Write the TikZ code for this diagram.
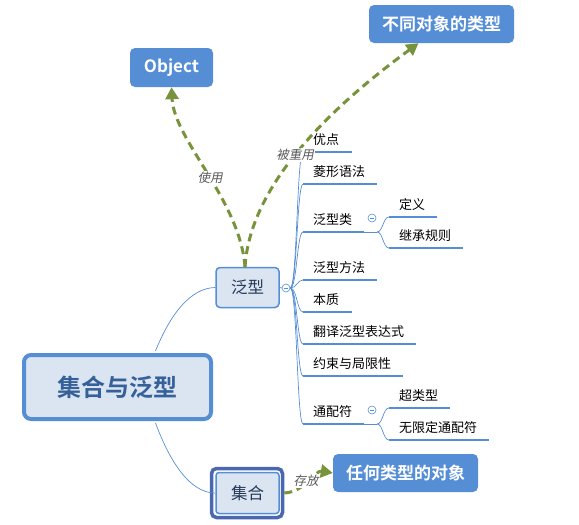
\documentclass[tikz,border=0pt]{standalone}
\usepackage{fontspec}
\setmainfont{Noto Sans CJK SC}[BoldFont={Noto Sans CJK SC Bold}]
\newfontfamily\cjkit{Noto Sans CJK SC}[FakeSlant=0.2]
\usetikzlibrary{arrows.meta}
\definecolor{blueA}{HTML}{558ED5}
\definecolor{lightfill}{HTML}{DBE5F1}
\definecolor{rootText}{HTML}{35609A}
\definecolor{olive}{HTML}{77933C}
\definecolor{labGray}{HTML}{595959}
\definecolor{outerB}{HTML}{4A67B0}
\definecolor{topicText}{HTML}{253858}
\tikzset{
  bluebox/.style={fill=blueA, rounded corners=5pt, text=white, font=\bfseries\fontsize{17}{20}\selectfont, inner sep=0pt},
  subtext/.style={anchor=base west, inner sep=0pt, font=\fontsize{13}{15}\selectfont},
  uline/.style={draw=blueA, line width=2.6pt},
  branch/.style={draw=blueA, line width=0.7pt},
  rel/.style={draw=olive, line width=3pt, dash pattern=on 8pt off 5pt, -{Triangle[length=12pt,width=13pt]}},
  rellab/.style={font=\cjkit\fontsize{12.5}{14}\selectfont, text=labGray, fill=white, inner sep=1pt},
  collapse/.style={circle, draw=blueA, fill=white, line width=0.6pt, minimum size=8pt, inner sep=0pt,
     path picture={\draw[blueA, line width=0.6pt] ([xshift=-2.2pt]path picture bounding box.center) -- ([xshift=2.2pt]path picture bounding box.center);}},
}
\begin{document}
\begin{tikzpicture}[x=1pt,y=-1pt]
\useasboundingbox (0,0) rectangle (579,525);
% root
\node[draw=blueA, line width=4pt, fill=lightfill, rounded corners=7pt, minimum width=187pt, minimum height=64pt,
  text=rootText, font=\bfseries\fontsize{24}{28}\selectfont] (root) at (117.5,387) {集合与泛型};
% generic topic
\node[draw=blueA, line width=1.5pt, fill=lightfill, rounded corners=4pt, minimum width=63pt, minimum height=40pt,
  text=topicText, font=\fontsize{16.5}{19}\selectfont] (fx) at (247.5,287.5) {泛型};
% collection topic (double border)
\node[draw=outerB, line width=3.5pt, rounded corners=5pt, minimum width=71pt, minimum height=49pt] (jhout) at (247,493) {};
\node[draw=blueA, line width=1.5pt, fill=lightfill, rounded corners=3pt, minimum width=63pt, minimum height=41pt,
  text=topicText, font=\fontsize{16.5}{19}\selectfont] (jh) at (247.5,493) {集合};
% blue callouts
\node[bluebox, minimum width=83pt, minimum height=39pt] (obj) at (171.5,67.5) {\raisebox{-1.5pt}{Object}};
\node[bluebox, minimum width=145pt, minimum height=38pt] (diff) at (441.5,24) {不同对象的类型};
\node[bluebox, minimum width=145pt, minimum height=38pt] (any) at (405.5,473) {任何类型的对象};
% root connectors
\draw[branch] (root.north) ++(38,-2) coordinate (r1) .. controls (170,315) and (190,288) .. (fx.west);
\draw[branch] (root.south) ++(38,2) coordinate (r2) .. controls (170,462) and (190,493) .. (jh.west);
% collapse
\node[collapse] (c0) at (286,288) {};
\draw[branch] (fx.east) -- (c0.west);
% subtopics
\foreach \nm/\y/\xe/\txt in {a/152/352/优点, b/184/377/菱形语法, c/232/364/泛型类, d/280/377/泛型方法,
   e/312/352/本质, f/344/416/翻译泛型表达式, g/376/403/约束与局限性, h/424/364/通配符} {
  \coordinate (\nm s) at (303,\y);
  \coordinate (\nm e) at (\xe,\y);
  \draw[branch] (c0.east) .. controls (297,288) and (297,\y) .. (\nm s);
  \draw[uline] (\nm s) -- (\nm e);
  \node[subtext] (\nm t) at (313,\y-7.5) {\txt};
}
% children of 泛型类
\node[collapse] (c1) at (372,218) {};
\coordinate (cj) at (377,232);
\draw[branch] (ce) -- (cj);
\foreach \nm/\y/\xe/\txt in {ca/217/437/定义, cb/248/463/继承规则} {
  \coordinate (\nm s) at (389,\y);
  \coordinate (\nm e) at (\xe,\y);
  \draw[branch] (cj) .. controls (383,232) and (383,\y) .. (\nm s);
  \draw[uline] (\nm s) -- (\nm e);
  \node[subtext] (\nm t) at (399,\y-8) {\txt};
}
% children of 通配符
\node[collapse] (c2) at (372,410) {};
\coordinate (hj) at (377,424);
\draw[branch] (he) -- (hj);
\foreach \nm/\y/\xe/\txt in {ha/408/450/超类型, hb/440/489/无限定通配符} {
  \coordinate (\nm s) at (389,\y);
  \coordinate (\nm e) at (\xe,\y);
  \draw[branch] (hj) .. controls (383,424) and (383,\y) .. (\nm s);
  \draw[uline] (\nm s) -- (\nm e);
  \node[subtext] (\nm t) at (399,\y-8) {\txt};
}
% relationships
\coordinate (fxtop) at (245,267);
\draw[rel] (fxtop) .. controls (240,200) and (174,140) .. (obj.south);
\draw[rel] (fxtop) .. controls (250,185) and (330,108) .. ([xshift=-23pt]diff.south);
\draw[rel] (jhout.east) .. controls (305,492) and (315,470) .. (any.west);
\node[rellab] (l1) at (210,178) {使用};
\node[rellab] (l2) at (295,155) {被重用};
\node[rellab] (l3) at (306,481) {存放};
\end{tikzpicture}
\end{document}
